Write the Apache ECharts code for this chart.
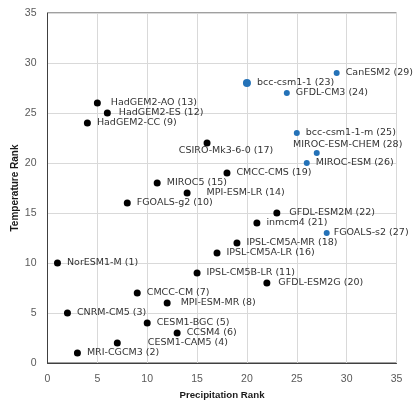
<!DOCTYPE html>
<html>
<head>
<meta charset="utf-8">
<script src="https://cdn.jsdelivr.net/npm/echarts@6/dist/echarts.min.js"></script>
<style>html,body{margin:0;padding:0;background:#fff}#c{width:419px;height:408px}</style>
</head>
<body>
<div id="c"></div>
<script>
// Black group
const blackNames = ["HadGEM2-AO (13)","HadGEM2-ES (12)","HadGEM2-CC (9)","CSIRO-Mk3-6-0 (17)","CMCC-CMS (19)","MIROC5 (15)","MPI-ESM-LR (14)","FGOALS-g2 (10)","GFDL-ESM2M (22)","inmcm4 (21)","IPSL-CM5A-MR (18)","IPSL-CM5A-LR (16)","NorESM1-M (1)","IPSL-CM5B-LR (11)","GFDL-ESM2G (20)","CMCC-CM (7)","MPI-ESM-MR (8)","CNRM-CM5 (3)","CESM1-BGC (5)","CCSM4 (6)","CESM1-CAM5 (4)","MRI-CGCM3 (2)"];
const blackPrecip = [5,6,4,16,18,11,14,8,23,21,19,17,1,15,22,9,12,2,10,13,7,3];
const blackTemp   = [26,25,24,22,19,18,17,16,15,14,12,11,10,9,8,7,6,5,4,3,2,1];
// Blue group
const blueNames = ["CanESM2 (29)","bcc-csm1-1 (23)","GFDL-CM3 (24)","bcc-csm1-1-m (25)","MIROC-ESM-CHEM (28)","MIROC-ESM (26)","FGOALS-s2 (27)"];
const bluePrecip = [29,20,24,25,27,26,28];
const blueTemp   = [29,28,27,23,21,20,13];

// label placement tweaks (style only)
const labelTweak = {
  "HadGEM2-AO (13)": {offset:[4,0]},
  "HadGEM2-ES (12)": {offset:[2,0]},
  "CSIRO-Mk3-6-0 (17)": {position:'bottom', distance:0, offset:[19,-1]},
  "MPI-ESM-LR (14)": {offset:[10,0]},
  "CESM1-CAM5 (4)": {offset:[21,0]},
  "MPI-ESM-MR (8)": {offset:[4,0]},
  "GFDL-ESM2M (22)": {offset:[3,0]},
  "GFDL-ESM2G (20)": {offset:[2,0]},
  "MIROC-ESM-CHEM (28)": {position:'top', distance:0, offset:[31,0]},
  "FGOALS-s2 (27)": {offset:[-2,0]}
};

function build(names, xs, ys) {
  return names.map((n, i) => {
    const d = {name: n, value: [xs[i], ys[i]]};
    const t = labelTweak[n];
    if (t) d.label = Object.assign({}, t);
    return d;
  });
}
const blackData = build(blackNames, blackPrecip, blackTemp);
const blueData = build(blueNames, bluePrecip, blueTemp);
blueData[1].symbolSize = 8;

const labelBase = {
  show: true, position: 'right', distance: 6,
  formatter: p => p.name,
  fontFamily: 'DejaVu Sans', fontSize: 9.5, color: '#333333'
};

const chart = echarts.init(document.getElementById('c'), null, {renderer: 'canvas'});
chart.setOption({
  animation: false,
  backgroundColor: '#fff',
  grid: {left: 47.5, right: 22.5, top: 13, bottom: 45, show: true, borderColor: '#404040', borderWidth: 1,
         containLabel: false, outerBoundsMode: 'none'},
  xAxis: {
    type: 'value', min: 0, max: 35, interval: 5,
    name: 'Precipitation Rank', nameLocation: 'middle', nameGap: 27, nameMoveOverlap: false,
    nameTextStyle: {fontFamily: 'Liberation Sans', fontWeight: 'bold', fontSize: 9.7, color: '#1a1a1a'},
    axisLine: {show: true, lineStyle: {color: '#404040'}},
    axisTick: {show: false},
    axisLabel: {fontFamily: 'Liberation Sans', fontSize: 10.5, color: '#595959', margin: 11},
    splitLine: {show: true, lineStyle: {color: '#d9d9d9'}}
  },
  yAxis: {
    type: 'value', min: 0, max: 35, interval: 5,
    name: 'Temperature Rank', nameLocation: 'middle', nameGap: 27, nameRotate: 90, nameMoveOverlap: false,
    nameTextStyle: {fontFamily: 'Liberation Sans', fontWeight: 'bold', fontSize: 10, color: '#1a1a1a'},
    axisLine: {show: true, lineStyle: {color: '#404040'}},
    axisTick: {show: false},
    axisLabel: {fontFamily: 'Liberation Sans', fontSize: 10.5, color: '#595959', margin: 11},
    splitLine: {show: true, lineStyle: {color: '#d9d9d9'}}
  },
  series: [
    {type: 'scatter', data: blackData, symbolSize: 7, itemStyle: {color: '#000', opacity: 1}, label: labelBase},
    {type: 'scatter', data: blueData, symbolSize: 6, itemStyle: {color: '#2472b8', opacity: 1}, label: labelBase}
  ]
});
</script>
</body>
</html>
